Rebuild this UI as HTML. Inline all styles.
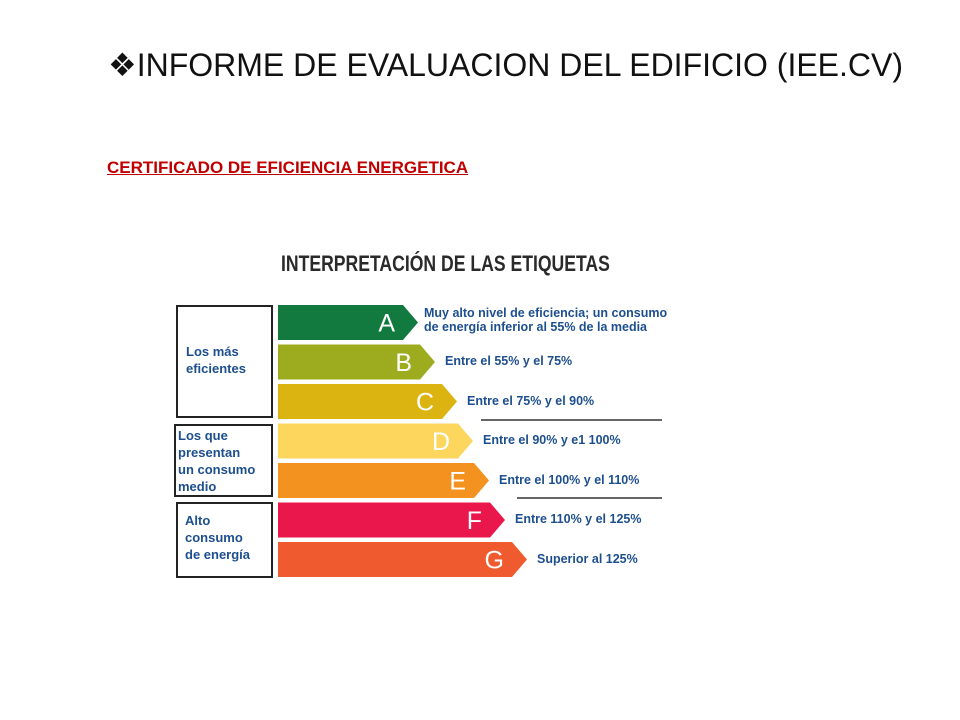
<!DOCTYPE html>
<html><head><meta charset="utf-8"><style>
body{margin:0;width:960px;height:720px;background:#fff;position:relative;overflow:hidden;font-family:"Liberation Sans",sans-serif}
.abs{position:absolute}
.box{position:absolute;border:2px solid #222;box-sizing:border-box;color:#1d4f8e;font-weight:bold;font-size:13px;line-height:17px}
.desc{position:absolute;color:#1d4f8e;font-weight:bold;font-size:12.5px;white-space:nowrap;line-height:14px}
</style></head><body>
<div class="abs" style="left:108px;top:46px;font-size:32px;color:#111;white-space:nowrap">❖INFORME DE EVALUACION DEL EDIFICIO (IEE.CV)</div>
<div class="abs" style="left:107px;top:158px;font-size:17px;font-weight:bold;color:#c00000;text-decoration:underline;white-space:nowrap">CERTIFICADO DE EFICIENCIA ENERGETICA</div>
<div class="abs" style="left:281px;top:251px;font-size:22px;font-weight:bold;color:#2a2a2a;white-space:nowrap;transform:scaleX(0.8);transform-origin:left top">INTERPRETACIÓN DE LAS ETIQUETAS</div>
<div class="box" style="left:176px;top:305px;width:97px;height:113px;padding:36px 0 0 8px">Los más<br>eficientes</div>
<div class="box" style="left:174px;top:424px;width:99px;height:73px;padding:1px 0 0 2px;line-height:17px">Los que<br>presentan<br>un consumo<br>medio</div>
<div class="box" style="left:176px;top:502px;width:97px;height:76px;padding:8px 0 0 7px">Alto<br>consumo<br>de energía</div>
<svg id="chart" class="abs" style="left:0;top:0" width="960" height="720"></svg>
<div id="descs"></div>
<script>
const letters=["A","B","C","D","E","F","G"];
const widths=[140,157,179,195,211,227,249];
const colors=["#127a3f","#9dab1f","#dcb411","#fdd65d","#f3921f","#e9174b","#ef5b2e"];
const descriptions=["Muy alto nivel de eficiencia; un consumo<br>de energía inferior al 55% de la media","Entre el 55% y el 75%","Entre el 75% y el 90%","Entre el 90% y e1 100%","Entre el 100% y el 110%","Entre 110% y el 125%","Superior al 125%"];
const svg=document.getElementById('chart');const ns="http://www.w3.org/2000/svg";
const x0=278,y0=305,step=39.5,h=35,tip=15;
letters.forEach((L,i)=>{
 const y=y0+i*step,x1=x0+widths[i];
 const p=document.createElementNS(ns,'polygon');
 p.setAttribute('points',`${x0},${y} ${x1-tip},${y} ${x1},${y+h/2} ${x1-tip},${y+h} ${x0},${y+h}`);
 p.setAttribute('fill',colors[i]);
 
 
 svg.appendChild(p);
 const t=document.createElementNS(ns,'text');
 t.setAttribute('x',x1-tip-8);t.setAttribute('y',y+h/2+9);t.setAttribute('text-anchor','end');
 t.setAttribute('fill','#fff');t.setAttribute('font-size','25');t.setAttribute('font-family','Liberation Sans,sans-serif');
 t.textContent=L;
 
 
 svg.appendChild(t);
 const d=document.createElement('div');d.className='desc';
 
 
 d.innerHTML=descriptions[i];
 d.style.left=(x1+(i==0?6:10))+'px';
 d.style.top=(i==0?y+1:y+h/2-8)+'px';
 document.getElementById('descs').appendChild(d);
});
[[481,662,420],[517,662,498]].forEach((s,k)=>{
 const l=document.createElementNS(ns,'line');
 l.setAttribute('x1',s[0]);l.setAttribute('x2',s[1]);l.setAttribute('y1',s[2]);l.setAttribute('y2',s[2]);
 l.setAttribute('stroke','#333');l.setAttribute('stroke-width','1.5');
 
 
 svg.appendChild(l);
});
</script>
</body></html>
